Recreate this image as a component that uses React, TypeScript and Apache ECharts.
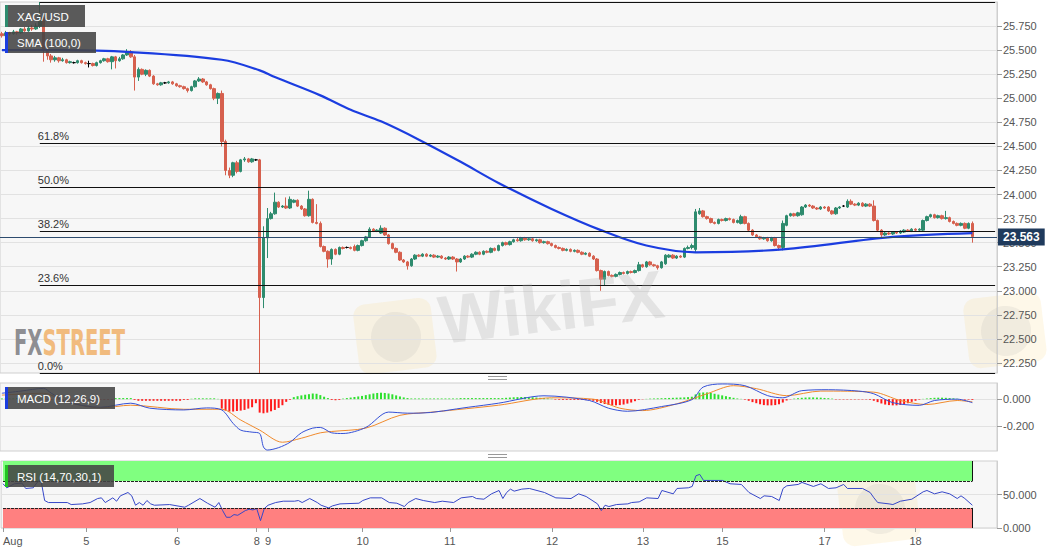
import React, { useEffect, useRef } from 'react';
import * as echarts from 'echarts';

// ---------------- data ----------------
const TOTAL_SLOTS = 263;
const dayTickIndex = [0, 22, 46, 67, 70, 95, 118, 145, 169, 190, 217, 241];
const dayTickLabel = ['Aug', '5', '6', '8', '9', '10', '11', '12', '13', '15', '17', '18'];
const priceTicks = [22.25, 22.5, 22.75, 23, 23.25, 23.5, 23.75, 24, 24.25, 24.5, 24.75, 25, 25.25, 25.5, 25.75];
const priceMin = 22.146;
const priceMax = 26.0;
const fibLevels = [26.0, 24.528, 24.073, 23.618, 23.056, 22.146];
const fibLabels = ['', '61.8%', '50.0%', '38.2%', '23.6%', '0.0%'];
const fibStartIndex = 10;
const lastPrice = 23.563;
const macdTicks = [-0.2, 0];
const rsiTicks = [0, 50];
const rsiUpper = 70;
const rsiLower = 30;

// [open, close, low, high]
const candles = [
  [25.67, 25.65, 25.63, 25.69], [25.65, 25.68, 25.64, 25.70], [25.68, 25.67, 25.65, 25.69], [25.67, 25.69, 25.66, 25.71],
  [25.69, 25.68, 25.66, 25.70], [25.68, 25.72, 25.67, 25.73], [25.72, 25.70, 25.69, 25.74], [25.70, 25.73, 25.69, 25.75],
  [25.73, 25.72, 25.70, 25.76], [25.72, 25.75, 25.71, 25.78], [25.75, 25.84, 25.73, 26.00], [25.84, 25.50, 25.38, 25.86],
  [25.50, 25.44, 25.40, 25.52], [25.44, 25.40, 25.37, 25.46], [25.40, 25.42, 25.38, 25.44], [25.42, 25.39, 25.37, 25.43],
  [25.39, 25.40, 25.38, 25.42], [25.40, 25.37, 25.36, 25.41], [25.37, 25.38, 25.36, 25.39], [25.37, 25.37, 25.36, 25.38],
  [25.37, 25.39, 25.36, 25.40], [25.39, 25.37, 25.36, 25.40], [25.37, 25.36, 25.35, 25.38], [25.36, 25.36, 25.32, 25.39],
  [25.36, 25.34, 25.33, 25.37], [25.34, 25.37, 25.33, 25.38], [25.37, 25.39, 25.36, 25.40], [25.39, 25.41, 25.38, 25.42],
  [25.41, 25.38, 25.37, 25.42], [25.38, 25.43, 25.30, 25.44], [25.43, 25.39, 25.31, 25.44], [25.39, 25.41, 25.38, 25.43],
  [25.41, 25.45, 25.40, 25.46], [25.45, 25.48, 25.44, 25.51], [25.48, 25.43, 25.42, 25.50], [25.43, 25.22, 25.08, 25.45],
  [25.22, 25.30, 25.18, 25.32], [25.30, 25.25, 25.24, 25.31], [25.25, 25.29, 25.23, 25.30], [25.29, 25.23, 25.22, 25.30],
  [25.23, 25.15, 25.14, 25.24], [25.15, 25.14, 25.13, 25.16], [25.14, 25.16, 25.13, 25.17], [25.16, 25.16, 25.15, 25.17],
  [25.16, 25.17, 25.15, 25.18], [25.17, 25.15, 25.14, 25.18], [25.15, 25.13, 25.12, 25.16], [25.13, 25.12, 25.11, 25.14],
  [25.12, 25.10, 25.09, 25.13], [25.10, 25.08, 25.06, 25.11], [25.08, 25.12, 25.07, 25.13], [25.12, 25.18, 25.11, 25.19],
  [25.18, 25.20, 25.17, 25.22], [25.20, 25.17, 25.16, 25.21], [25.17, 25.14, 25.13, 25.18], [25.14, 25.10, 25.09, 25.15],
  [25.10, 25.00, 24.98, 25.11], [25.00, 25.05, 24.94, 25.06], [25.05, 24.55, 24.50, 25.08], [24.55, 24.25, 24.20, 24.57],
  [24.25, 24.20, 24.17, 24.28], [24.20, 24.33, 24.18, 24.34], [24.33, 24.24, 24.22, 24.35], [24.24, 24.36, 24.23, 24.37],
  [24.36, 24.37, 24.34, 24.39], [24.37, 24.34, 24.33, 24.38], [24.34, 24.37, 24.33, 24.38], [24.36, 24.36, 24.35, 24.37],
  [24.36, 22.93, 22.146, 24.37], [22.93, 23.55, 22.82, 23.67], [23.55, 23.75, 23.34, 23.86], [23.75, 23.80, 23.74, 23.82],
  [23.80, 23.92, 23.79, 24.02], [23.92, 23.87, 23.86, 23.93], [23.87, 23.88, 23.86, 23.89], [23.88, 23.86, 23.85, 23.97],
  [23.86, 23.95, 23.85, 23.98], [23.92, 23.94, 23.91, 23.95], [23.94, 23.88, 23.87, 23.95], [23.88, 23.85, 23.84, 23.89],
  [23.85, 23.78, 23.77, 23.86], [23.78, 23.95, 23.77, 24.04], [23.95, 23.71, 23.70, 23.96], [23.71, 23.70, 23.69, 23.90],
  [23.70, 23.46, 23.45, 23.72], [23.46, 23.41, 23.40, 23.47], [23.41, 23.33, 23.24, 23.42], [23.33, 23.43, 23.27, 23.44],
  [23.43, 23.38, 23.37, 23.44], [23.38, 23.45, 23.37, 23.46], [23.45, 23.44, 23.43, 23.46], [23.45, 23.45, 23.44, 23.46],
  [23.45, 23.44, 23.43, 23.46], [23.46, 23.42, 23.41, 23.48], [23.42, 23.47, 23.41, 23.48], [23.47, 23.52, 23.46, 23.53],
  [23.52, 23.56, 23.51, 23.57], [23.56, 23.64, 23.55, 23.66], [23.64, 23.62, 23.61, 23.65], [23.62, 23.63, 23.61, 23.64],
  [23.60, 23.65, 23.59, 23.68], [23.65, 23.58, 23.57, 23.66], [23.58, 23.49, 23.48, 23.59], [23.49, 23.44, 23.43, 23.50],
  [23.44, 23.40, 23.39, 23.45], [23.40, 23.32, 23.31, 23.41], [23.32, 23.30, 23.29, 23.33], [23.30, 23.26, 23.22, 23.31],
  [23.26, 23.33, 23.25, 23.34], [23.33, 23.37, 23.32, 23.38], [23.37, 23.36, 23.35, 23.38], [23.36, 23.38, 23.35, 23.39],
  [23.38, 23.36, 23.35, 23.39], [23.36, 23.37, 23.35, 23.38], [23.37, 23.35, 23.34, 23.38], [23.35, 23.36, 23.34, 23.37],
  [23.36, 23.34, 23.33, 23.37], [23.34, 23.33, 23.32, 23.35], [23.33, 23.35, 23.32, 23.36], [23.35, 23.33, 23.32, 23.36],
  [23.33, 23.30, 23.20, 23.34], [23.30, 23.33, 23.29, 23.34], [23.33, 23.36, 23.32, 23.37], [23.36, 23.35, 23.34, 23.37],
  [23.35, 23.38, 23.34, 23.39], [23.38, 23.40, 23.37, 23.41], [23.40, 23.38, 23.37, 23.41], [23.38, 23.41, 23.37, 23.42],
  [23.41, 23.40, 23.39, 23.42], [23.40, 23.44, 23.39, 23.45], [23.44, 23.42, 23.41, 23.45], [23.42, 23.47, 23.41, 23.48],
  [23.47, 23.50, 23.46, 23.51], [23.50, 23.48, 23.47, 23.51], [23.48, 23.51, 23.47, 23.52], [23.51, 23.53, 23.50, 23.54],
  [23.53, 23.52, 23.51, 23.55], [23.52, 23.55, 23.51, 23.56], [23.55, 23.53, 23.52, 23.56], [23.53, 23.54, 23.52, 23.55],
  [23.54, 23.52, 23.51, 23.55], [23.52, 23.53, 23.51, 23.54], [23.53, 23.50, 23.49, 23.54], [23.50, 23.51, 23.49, 23.52],
  [23.51, 23.49, 23.48, 23.52], [23.49, 23.47, 23.46, 23.50], [23.47, 23.45, 23.44, 23.48], [23.45, 23.44, 23.43, 23.46],
  [23.44, 23.42, 23.41, 23.45], [23.42, 23.43, 23.41, 23.44], [23.43, 23.41, 23.40, 23.44], [23.41, 23.42, 23.40, 23.43],
  [23.42, 23.40, 23.39, 23.43], [23.40, 23.38, 23.37, 23.41], [23.38, 23.39, 23.37, 23.40], [23.39, 23.36, 23.35, 23.40],
  [23.36, 23.33, 23.32, 23.37], [23.33, 23.21, 23.20, 23.34], [23.21, 23.12, 23.00, 23.22], [23.12, 23.20, 23.05, 23.21],
  [23.20, 23.16, 23.15, 23.21], [23.16, 23.15, 23.14, 23.17], [23.15, 23.17, 23.14, 23.18], [23.17, 23.19, 23.16, 23.20],
  [23.19, 23.18, 23.17, 23.20], [23.18, 23.20, 23.17, 23.21], [23.20, 23.19, 23.18, 23.21], [23.19, 23.21, 23.18, 23.22],
  [23.21, 23.27, 23.20, 23.30], [23.27, 23.25, 23.24, 23.28], [23.25, 23.30, 23.24, 23.31], [23.30, 23.27, 23.26, 23.31],
  [23.27, 23.26, 23.25, 23.28], [23.26, 23.24, 23.22, 23.27], [23.24, 23.30, 23.23, 23.31], [23.28, 23.37, 23.27, 23.38],
  [23.35, 23.37, 23.34, 23.38], [23.37, 23.34, 23.33, 23.38], [23.34, 23.36, 23.33, 23.37], [23.36, 23.35, 23.34, 23.37],
  [23.35, 23.44, 23.34, 23.45], [23.44, 23.45, 23.43, 23.47], [23.45, 23.47, 23.43, 23.49], [23.43, 23.82, 23.40, 23.85],
  [23.80, 23.83, 23.79, 23.86], [23.83, 23.77, 23.76, 23.84], [23.77, 23.75, 23.74, 23.78], [23.75, 23.71, 23.70, 23.76],
  [23.71, 23.70, 23.69, 23.72], [23.70, 23.74, 23.69, 23.75], [23.74, 23.73, 23.72, 23.75], [23.73, 23.75, 23.72, 23.76],
  [23.75, 23.74, 23.73, 23.76], [23.74, 23.71, 23.70, 23.75], [23.71, 23.73, 23.70, 23.74], [23.70, 23.77, 23.69, 23.79],
  [23.77, 23.70, 23.69, 23.78], [23.70, 23.63, 23.62, 23.71], [23.63, 23.58, 23.57, 23.64], [23.58, 23.56, 23.55, 23.59],
  [23.56, 23.54, 23.53, 23.57], [23.54, 23.55, 23.53, 23.56], [23.55, 23.52, 23.51, 23.56], [23.52, 23.55, 23.51, 23.56],
  [23.55, 23.47, 23.46, 23.56], [23.47, 23.45, 23.42, 23.48], [23.45, 23.70, 23.42, 23.73], [23.68, 23.78, 23.67, 23.79],
  [23.78, 23.80, 23.77, 23.81], [23.80, 23.78, 23.77, 23.81], [23.78, 23.81, 23.77, 23.82], [23.79, 23.87, 23.78, 23.88],
  [23.87, 23.89, 23.86, 23.90], [23.89, 23.88, 23.87, 23.90], [23.88, 23.86, 23.85, 23.89], [23.86, 23.85, 23.84, 23.87],
  [23.85, 23.87, 23.84, 23.88], [23.87, 23.86, 23.85, 23.88], [23.87, 23.83, 23.82, 23.88], [23.83, 23.80, 23.79, 23.84],
  [23.80, 23.86, 23.79, 23.87], [23.86, 23.87, 23.85, 23.88], [23.88, 23.88, 23.87, 23.89], [23.87, 23.93, 23.86, 23.95],
  [23.93, 23.90, 23.89, 23.95], [23.90, 23.89, 23.88, 23.91], [23.89, 23.91, 23.88, 23.92], [23.91, 23.88, 23.87, 23.92],
  [23.88, 23.90, 23.87, 23.91], [23.90, 23.88, 23.87, 23.91], [23.88, 23.73, 23.72, 23.94], [23.73, 23.63, 23.62, 23.74],
  [23.63, 23.58, 23.56, 23.64], [23.58, 23.60, 23.57, 23.61], [23.60, 23.59, 23.58, 23.61], [23.59, 23.61, 23.58, 23.62],
  [23.61, 23.60, 23.59, 23.62], [23.60, 23.62, 23.59, 23.63], [23.61, 23.63, 23.60, 23.64], [23.63, 23.62, 23.61, 23.64],
  [23.62, 23.64, 23.61, 23.65], [23.64, 23.63, 23.62, 23.65], [23.63, 23.64, 23.62, 23.65], [23.63, 23.73, 23.62, 23.74],
  [23.73, 23.77, 23.72, 23.78], [23.77, 23.79, 23.76, 23.80], [23.79, 23.76, 23.75, 23.80], [23.76, 23.78, 23.75, 23.79],
  [23.78, 23.75, 23.74, 23.79], [23.75, 23.76, 23.74, 23.83], [23.76, 23.72, 23.71, 23.77], [23.72, 23.70, 23.69, 23.73],
  [23.70, 23.68, 23.67, 23.71], [23.68, 23.70, 23.67, 23.71], [23.70, 23.65, 23.64, 23.71], [23.65, 23.70, 23.64, 23.71],
  [23.70, 23.563, 23.50, 23.72],
];

// SMA(100) read at sample candles: [candle index, value]
const smaPoints = [
  [0, 25.5], [15, 25.5], [34, 25.48], [58, 25.4], [68, 25.29], [72, 25.22], [84, 25.03], [92, 24.88],
  [100, 24.76], [110, 24.57], [121, 24.34], [131, 24.12], [145, 23.85], [158, 23.63], [170, 23.47],
  [183, 23.4], [206, 23.43], [235, 23.56], [256, 23.6],
];

const macdPoints = [
  [0, 0.044], [5, 0.06], [11, 0.08], [13, 0.045], [17, -0.02], [26, -0.06], [34, -0.03], [39, -0.067],
  [48, -0.08], [54, -0.065], [58, -0.08], [61, -0.18], [63, -0.23], [66, -0.245], [68, -0.255], [69, -0.355],
  [70, -0.378], [73, -0.36], [76, -0.32], [79, -0.25], [82, -0.215], [84, -0.21], [87, -0.25], [90, -0.255],
  [96, -0.21], [102, -0.096], [107, -0.104], [110, -0.104], [123, -0.06], [131, -0.03], [143, 0.025],
  [155, -0.01], [160, -0.067], [165, -0.09], [174, -0.055], [182, -0.004], [185, 0.09], [190, 0.113],
  [196, 0.1], [202, 0.026], [206, 0.01], [211, 0.063], [218, 0.07], [226, 0.06], [230, 0.04], [235, -0.026],
  [242, -0.046], [246, -0.01], [252, 0], [256, -0.026],
];

const signalPoints = [
  [0, 0.03], [11, 0.044], [17, -0.02], [26, -0.065], [34, -0.045], [48, -0.075], [58, -0.075], [63, -0.155],
  [68, -0.23], [74, -0.32], [79, -0.29], [84, -0.25], [87, -0.24], [96, -0.215], [105, -0.12], [114, -0.095],
  [131, -0.045], [145, 0.01], [156, 0], [163, -0.067], [169, -0.085], [178, -0.035], [186, 0.04], [193, 0.1],
  [199, 0.078], [207, 0.026], [216, 0.06], [230, 0.052], [237, -0.01], [244, -0.04], [252, -0.01], [256, -0.02],
];

const histogram = [
  0.005, 0.005, 0.005, 0.005, 0.008, 0.008, 0.008, 0.008, 0.008, 0.008, 0.008,
  -0.004, -0.004, -0.004, -0.004, -0.004, -0.004, -0.004, -0.004, -0.004, -0.004,
  -0.004, -0.004, -0.004, -0.004, -0.004, -0.004, -0.004, -0.004, -0.004,
  0.008, 0.008, 0.008, 0.008, 0.008,
  -0.006,
  -0.012, -0.012, -0.012, -0.012, -0.012, -0.012, -0.012, -0.012, -0.012, -0.012, -0.012, -0.012,
  -0.006, -0.006,
  0.003,
  0.006, 0.006, 0.006, 0.006, 0.006, 0.006,
  0.002,
  -0.07, -0.085, -0.092, -0.092, -0.088, -0.085, -0.08, -0.07, -0.06,
  -0.03,
  -0.1, -0.105, -0.1, -0.09, -0.08, -0.065, -0.045,
  -0.02, -0.005,
  0.015, 0.022, 0.028, 0.033, 0.037, 0.042, 0.04, 0.03, 0.018, 0.008,
  -0.006, -0.008, -0.006,
  0.004, 0.008, 0.012, 0.016, 0.02, 0.024, 0.03, 0.036, 0.042, 0.046, 0.048, 0.046, 0.042, 0.036, 0.028, 0.02, 0.013, 0.008,
  0.005, 0.005, 0.005, 0.005, 0.005, 0.005, 0.005, 0.005, 0.005, 0.005, 0.005, 0.005, 0.005,
  0.008, 0.008, 0.008, 0.008, 0.008, 0.008, 0.008, 0.008, 0.008, 0.008, 0.008,
  0.008, 0.01, 0.012, 0.014, 0.015, 0.016, 0.016, 0.015, 0.014, 0.012, 0.01, 0.008, 0.005, 0.003,
  -0.004, -0.005, -0.006, -0.006, -0.006, -0.006, -0.006, -0.006, -0.007, -0.008,
  -0.012, -0.02, -0.028, -0.036, -0.042, -0.046, -0.046, -0.044, -0.04, -0.033, -0.025, -0.015,
  -0.005, -0.002, 0.002, 0.004, 0.005,
  0.006, 0.007, 0.008, 0.009, 0.01, 0.011, 0.012, 0.013, 0.015, 0.018,
  0.035, 0.048, 0.05, 0.05, 0.046, 0.04, 0.034, 0.028, 0.022, 0.016, 0.01, 0.005,
  0.002, -0.004,
  -0.012, -0.022, -0.03, -0.038, -0.044, -0.046, -0.046, -0.044, -0.038, -0.025,
  -0.01, -0.002,
  0.004, 0.007, 0.01, 0.012, 0.013, 0.013, 0.012, 0.011, 0.009, 0.007, 0.004,
  -0.003, -0.003, -0.003, -0.003, -0.003, -0.003, -0.003, -0.003, -0.003,
  -0.005, -0.012, -0.022, -0.032, -0.04, -0.044, -0.046, -0.046, -0.043, -0.037, -0.03, -0.02, -0.012,
  -0.004, 0.002,
  0.005, 0.008, 0.01, 0.011, 0.011, 0.01, 0.008, 0.006, 0.003,
  -0.002, -0.004, -0.004, -0.006,
];

const rsiPoints = [
  [0, 66], [1, 60], [3, 66], [5, 67], [6, 59], [8, 60], [9, 68], [10, 72], [11, 41], [12, 38], [17, 38],
  [18, 35], [21, 36], [23, 38], [25, 44], [26, 45], [27, 38], [29, 45], [30, 40], [31, 48], [33, 53], [34, 48],
  [35, 34], [36, 38], [37, 34], [38, 41], [39, 36], [40, 34], [44, 35], [48, 31], [49, 34], [52, 44], [54, 37],
  [56, 31], [57, 38], [58, 26], [59, 16], [60, 16], [61, 20], [62, 19], [64, 26], [65, 28], [66, 27], [67, 29],
  [68, 11], [69, 29], [70, 34], [72, 38], [74, 40], [77, 40], [78, 41], [79, 38], [81, 44], [83, 38], [84, 34],
  [86, 30], [87, 33], [89, 36], [94, 37], [95, 41], [97, 45], [100, 45], [102, 38], [104, 37], [106, 32],
  [107, 38], [109, 44], [111, 41], [114, 38], [116, 40], [119, 38], [121, 45], [124, 47], [125, 44], [127, 43],
  [129, 51], [131, 56], [132, 44], [133, 53], [134, 58], [135, 55], [137, 58], [139, 59], [143, 53], [146, 45],
  [150, 44], [152, 51], [154, 47], [157, 36], [158, 26], [159, 34], [160, 32], [162, 35], [165, 36], [166, 38],
  [168, 39], [170, 45], [173, 44], [174, 56], [177, 51], [178, 59], [181, 60], [182, 62], [183, 78], [184, 80],
  [185, 71], [187, 71], [190, 71], [192, 66], [195, 65], [197, 53], [200, 44], [201, 48], [203, 47], [205, 41],
  [206, 59], [207, 63], [210, 65], [211, 68], [214, 62], [216, 66], [218, 59], [220, 60], [222, 65], [223, 59],
  [225, 59], [227, 59], [229, 53], [230, 45], [231, 38], [234, 36], [235, 35], [237, 40], [240, 43], [243, 54],
  [244, 56], [246, 51], [248, 54], [250, 51], [252, 44], [253, 48], [254, 44], [256, 34],
];

// ---------------- styling ----------------
const UP = '#2e8b6e';
const DOWN = '#d6604e';
const SMA_BLUE = '#1b3de0';
const PANEL_BG = '#f7f7f7';
const FONT = '"Liberation Sans", Arial, sans-serif';
const NARROW = '"Liberation Sans Narrow", "DejaVu Sans Condensed", sans-serif';

const categories = Array.from({ length: TOTAL_SLOTS }, (_, i) => {
  const k = dayTickIndex.indexOf(i);
  return k >= 0 ? dayTickLabel[k] : '#' + i;
});
const isDayTick = (i: number) => dayTickIndex.indexOf(i) >= 0;

function labelBox(x: number, y: number, w: number, h: number, bar: string, text: string) {
  return {
    type: 'group',
    z: 100,
    children: [
      { type: 'rect', z: 100, shape: { x, y, width: w, height: h }, style: { fill: 'rgba(68,68,68,0.88)' } },
      { type: 'rect', z: 101, shape: { x, y, width: 3, height: h }, style: { fill: bar } },
      {
        type: 'text', z: 102, x: x + 12, y: y + h / 2 + 0.5,
        style: { text, fill: '#ffffff', fontSize: 11.5, fontFamily: FONT, verticalAlign: 'middle' },
      },
    ],
  };
}

function logo(x: number, y: number) {
  return {
    type: 'group', x, y, rotation: 0.12, z: 60, silent: true,
    children: [
      { type: 'rect', shape: { x: 0, y: 0, width: 78, height: 70, r: 12 }, style: { fill: 'rgba(250,212,120,0.16)' } },
      { type: 'circle', shape: { cx: 40, cy: 36, r: 25 }, style: { fill: 'rgba(160,160,160,0.14)' } },
    ],
  };
}

function buildOption() {
  const xBase = {
    type: 'category', data: categories, boundaryGap: true,
    axisLine: { show: false }, axisTick: { show: false }, axisLabel: { show: false }, splitLine: { show: false },
  };
  const yLabel = { color: '#555', fontSize: 11, fontFamily: FONT, margin: 6 };

  const fibData: any[] = fibLevels.map((lvl, k) => [
    {
      coord: [fibStartIndex, lvl],
      lineStyle: { color: '#111', width: 1, type: 'solid' },
      label: {
        show: fibLabels[k] !== '', position: 'insideStartTop', formatter: fibLabels[k] || ' ',
        color: '#333', fontSize: 11, fontFamily: FONT, distance: [-2, 2],
      },
    },
    { coord: [TOTAL_SLOTS - 1, lvl] },
  ]);
  fibData.push({
    yAxis: lastPrice,
    lineStyle: { color: '#2d4b6e', width: 1, type: 'solid' },
    label: {
      show: true, position: 'end', distance: 1, formatter: lastPrice.toFixed(3),
      color: '#fff', backgroundColor: '#1f3a5c', fontWeight: 'bold', fontSize: 12, fontFamily: FONT,
      padding: [3, 5, 2, 5],
    },
  });

  return {
    animation: false,
    backgroundColor: '#ffffff',
    grid: [
      { left: 0, top: 2, width: 997, height: 371, show: true, backgroundColor: PANEL_BG, borderColor: '#cfcfcf' },
      { left: 0, top: 383, width: 997, height: 68, show: true, backgroundColor: PANEL_BG, borderColor: '#cfcfcf' },
      { left: 0, top: 461, width: 997, height: 67, show: true, backgroundColor: PANEL_BG, borderColor: '#cfcfcf' },
    ],
    xAxis: [
      { ...xBase, gridIndex: 0 },
      { ...xBase, gridIndex: 1 },
      {
        ...xBase, gridIndex: 2,
        axisTick: { show: true, alignWithLabel: true, length: 4, interval: (i: number) => isDayTick(i), lineStyle: { color: '#999' } },
        axisLabel: {
          show: true, interval: (i: number) => isDayTick(i), color: '#555', fontSize: 11, fontFamily: FONT, margin: 7,
          alignMinLabel: 'left',
        },
      },
    ],
    yAxis: [
      {
        type: 'value', gridIndex: 0, position: 'right', min: priceMin, max: priceMax,
        axisLine: { show: true, lineStyle: { color: '#cfcfcf' } },
        axisTick: { show: true, length: 5, customValues: priceTicks, lineStyle: { color: '#999' } },
        axisLabel: { ...yLabel, customValues: priceTicks, formatter: (v: number) => v.toFixed(3) },
        splitLine: { show: true, lineStyle: { color: '#e2e2e2' } },
      },
      {
        type: 'value', gridIndex: 1, position: 'right', min: -0.385, max: 0.12,
        axisLine: { show: true, lineStyle: { color: '#cfcfcf' } },
        axisTick: { show: true, length: 5, customValues: macdTicks, lineStyle: { color: '#999' } },
        axisLabel: { ...yLabel, customValues: macdTicks, formatter: (v: number) => v.toFixed(3) },
        splitLine: { show: true, lineStyle: { color: '#e2e2e2' } },
      },
      {
        type: 'value', gridIndex: 2, position: 'right', min: 0, max: 100,
        axisLine: { show: true, lineStyle: { color: '#cfcfcf' } },
        axisTick: { show: true, length: 5, customValues: rsiTicks, lineStyle: { color: '#999' } },
        axisLabel: { ...yLabel, customValues: rsiTicks, formatter: (v: number) => v.toFixed(3) },
        splitLine: { show: true, lineStyle: { color: '#e2e2e2' } },
      },
    ],
    series: [
      {
        type: 'candlestick', xAxisIndex: 0, yAxisIndex: 0, data: candles, barWidth: 3,
        itemStyle: { color: UP, color0: DOWN, borderColor: UP, borderColor0: DOWN, borderColorDoji: '#000', borderWidth: 1 },
        markLine: { symbol: 'none', silent: true, animation: false, data: fibData },
      },
      {
        type: 'line', xAxisIndex: 0, yAxisIndex: 0, data: smaPoints, smooth: 0.35, showSymbol: false,
        lineStyle: { color: SMA_BLUE, width: 2.2 }, z: 4,
      },
      {
        type: 'bar', xAxisIndex: 1, yAxisIndex: 1, barWidth: 2,
        data: histogram.map((v) => ({ value: v, itemStyle: { color: v >= 0 ? '#2de02d' : '#ff1a1a' } })),
      },
      {
        type: 'line', xAxisIndex: 1, yAxisIndex: 1, data: macdPoints, smooth: 0.3, showSymbol: false,
        lineStyle: { color: '#3550d6', width: 1 }, z: 4,
      },
      {
        type: 'line', xAxisIndex: 1, yAxisIndex: 1, data: signalPoints, smooth: 0.3, showSymbol: false,
        lineStyle: { color: '#f08a2c', width: 1 }, z: 3,
      },
      {
        type: 'line', xAxisIndex: 2, yAxisIndex: 2, data: rsiPoints, showSymbol: false,
        lineStyle: { color: '#3647c8', width: 1 }, z: 4,
        markArea: {
          silent: true,
          data: [
            [{ coord: [0, rsiUpper], itemStyle: { color: '#80ff80' } }, { coord: [candles.length - 1, 100] }],
            [{ coord: [0, 0], itemStyle: { color: '#ff8080' } }, { coord: [candles.length - 1, rsiLower] }],
          ],
        },
        markLine: {
          symbol: 'none', silent: true, label: { show: false },
          data: [
            [{ coord: [0, rsiUpper], lineStyle: { color: '#222', type: [3, 1], width: 1 } }, { coord: [candles.length - 1, rsiUpper] }],
            [{ coord: [0, rsiLower], lineStyle: { color: '#222', type: [3, 1], width: 1 } }, { coord: [candles.length - 1, rsiLower] }],
            [{ coord: [candles.length - 1, rsiUpper], lineStyle: { color: '#111', type: 'solid', width: 1 } }, { coord: [candles.length - 1, 100] }],
            [{ coord: [candles.length - 1, 0], lineStyle: { color: '#111', type: 'solid', width: 1 } }, { coord: [candles.length - 1, rsiLower] }],
          ],
        },
      },
    ],
    graphic: [
      // watermarks
      logo(352, 306), logo(962, 300), logo(836, 478),
      {
        type: 'text', x: 443, y: 354, rotation: 0.12, z: 60, silent: true,
        style: { text: 'WikiFX', fill: 'rgba(175,175,175,0.28)', fontSize: 68, fontWeight: 'bold', fontFamily: FONT, verticalAlign: 'bottom' },
      },
      {
        type: 'text', x: 14, y: 342, z: 61, silent: true, scaleX: 0.87, scaleY: 1.45,
        style: {
          text: '{a|FX}{b|STREET}', verticalAlign: 'middle',
          rich: {
            a: { fill: 'rgba(128,128,132,0.9)', fontSize: 25, fontWeight: 'bold', fontFamily: NARROW },
            b: { fill: 'rgba(240,176,104,0.85)', fontSize: 25, fontWeight: 'bold', fontFamily: NARROW },
          },
        },
      },
      // panel grips
      { type: 'line', z: 90, shape: { x1: 488, y1: 376.5, x2: 507, y2: 376.5 }, style: { stroke: '#999', lineWidth: 1 } },
      { type: 'line', z: 90, shape: { x1: 488, y1: 379.5, x2: 507, y2: 379.5 }, style: { stroke: '#999', lineWidth: 1 } },
      { type: 'line', z: 90, shape: { x1: 488, y1: 454.5, x2: 507, y2: 454.5 }, style: { stroke: '#999', lineWidth: 1 } },
      { type: 'line', z: 90, shape: { x1: 488, y1: 457.5, x2: 507, y2: 457.5 }, style: { stroke: '#999', lineWidth: 1 } },
      // indicator label boxes
      labelBox(5, 5, 80, 22, UP, 'XAG/USD'),
      labelBox(5, 32, 91, 21, SMA_BLUE, 'SMA (100,0)'),
      labelBox(5, 387, 110, 22, SMA_BLUE, 'MACD (12,26,9)'),
      labelBox(5, 465, 109, 22, '#22c322', 'RSI (14,70,30,1)'),
    ],
  };
}

export default function App() {
  const ref = useRef<HTMLDivElement>(null);
  useEffect(() => {
    if (!ref.current) return;
    const chart = echarts.init(ref.current, undefined, { renderer: 'svg' });
    chart.setOption(buildOption() as any);
    return () => chart.dispose();
  }, []);
  return (
    <div
      ref={ref}
      style={{ position: 'absolute', left: 0, top: 0, width: 1060, height: 555, background: '#fff' }}
    />
  );
}
